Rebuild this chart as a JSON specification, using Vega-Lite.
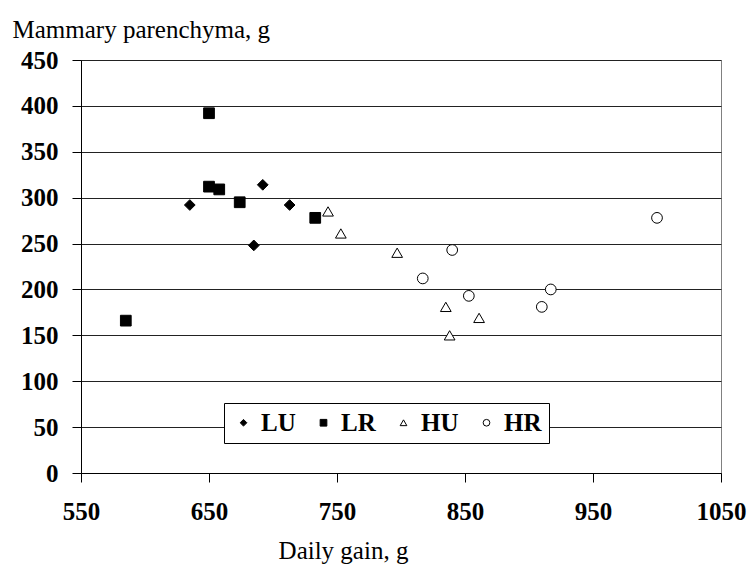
{
  "$schema": "https://vega.github.io/schema/vega-lite/v6.json",
  "width": 640,
  "height": 413,
  "autosize": "none",
  "padding": {"left": 81, "top": 60, "right": 30, "bottom": 97},
  "background": "white",
  "config": {
    "view": {"stroke": "#808080", "strokeWidth": 1},
    "font": "Liberation Serif",
    "legend": {
      "title": null,
      "orient": "none",
      "legendX": 143,
      "legendY": 343,
      "direction": "horizontal",
      "strokeColor": "black",
      "fillColor": "white",
      "padding": 7,
      "columnPadding": 15,
      "labelFont": "Liberation Serif",
      "labelFontSize": 25,
      "labelFontWeight": "bold",
      "labelColor": "black",
      "symbolSize": 45,
      "symbolStrokeWidth": 1,
      "labelOffset": 5
    }
  },
  "data": {
    "values": [
      {"gain": 635, "parenchyma": 292, "group": "LU"},
      {"gain": 692, "parenchyma": 314, "group": "LU"},
      {"gain": 713, "parenchyma": 292, "group": "LU"},
      {"gain": 685, "parenchyma": 248, "group": "LU"},
      {"gain": 650, "parenchyma": 392, "group": "LR"},
      {"gain": 650, "parenchyma": 312, "group": "LR"},
      {"gain": 658, "parenchyma": 309, "group": "LR"},
      {"gain": 674, "parenchyma": 295, "group": "LR"},
      {"gain": 733, "parenchyma": 278, "group": "LR"},
      {"gain": 585, "parenchyma": 166, "group": "LR"},
      {"gain": 743, "parenchyma": 285, "group": "HU"},
      {"gain": 753, "parenchyma": 261, "group": "HU"},
      {"gain": 797, "parenchyma": 240, "group": "HU"},
      {"gain": 835, "parenchyma": 181, "group": "HU"},
      {"gain": 861, "parenchyma": 169, "group": "HU"},
      {"gain": 838, "parenchyma": 150, "group": "HU"},
      {"gain": 840, "parenchyma": 243, "group": "HR"},
      {"gain": 817, "parenchyma": 212, "group": "HR"},
      {"gain": 853, "parenchyma": 193, "group": "HR"},
      {"gain": 917, "parenchyma": 200, "group": "HR"},
      {"gain": 910, "parenchyma": 181, "group": "HR"},
      {"gain": 1000, "parenchyma": 278, "group": "HR"}
    ]
  },
  "mark": {"type": "point", "filled": true, "strokeWidth": 1, "opacity": 1, "size": 115},
  "encoding": {
    "x": {
      "field": "gain",
      "type": "quantitative",
      "scale": {"domain": [550, 1050], "nice": false, "zero": false},
      "axis": {
        "values": [550, 650, 750, 850, 950, 1050],
        "format": "d",
        "grid": false,
        "title": "Daily gain, g",
        "titleFont": "Liberation Serif",
        "titleFontSize": 25,
        "titleFontWeight": "normal",
        "titleColor": "black",
        "titleX": 262,
        "titleY": 77,
        "titleBaseline": "middle",
        "titleAlign": "center",
        "domainColor": "black",
        "tickColor": "black",
        "tickSize": 9,
        "labelFont": "Liberation Serif",
        "labelFontSize": 25,
        "labelFontWeight": "bold",
        "labelColor": "black",
        "labelPadding": 17,
        "labelFlush": false
      }
    },
    "y": {
      "field": "parenchyma",
      "type": "quantitative",
      "scale": {"domain": [0, 450], "nice": false},
      "axis": {
        "values": [0, 50, 100, 150, 200, 250, 300, 350, 400, 450],
        "format": "d",
        "grid": true,
        "gridColor": "#222",
        "gridWidth": 1,
        "gridOpacity": 1,
        "title": "Mammary parenchyma, g",
        "titleFont": "Liberation Serif",
        "titleFontSize": 25,
        "titleFontWeight": "normal",
        "titleColor": "black",
        "titleAngle": 0,
        "titleAlign": "left",
        "titleBaseline": "middle",
        "titleX": -69,
        "titleY": -31,
        "domainColor": "black",
        "tickColor": "black",
        "tickSize": 9,
        "labelFont": "Liberation Serif",
        "labelFontSize": 25,
        "labelFontWeight": "bold",
        "labelColor": "black",
        "labelPadding": 14,
        "labelFlush": false
      }
    },
    "shape": {
      "field": "group",
      "type": "nominal",
      "scale": {"domain": ["LU", "LR", "HU", "HR"], "range": ["diamond", "square", "triangle-up", "circle"]}
    },
    "fill": {
      "field": "group",
      "type": "nominal",
      "scale": {"domain": ["LU", "LR", "HU", "HR"], "range": ["black", "black", "white", "white"]}
    },
    "stroke": {
      "field": "group",
      "type": "nominal",
      "scale": {"domain": ["LU", "LR", "HU", "HR"], "range": ["black", "black", "black", "black"]}
    }
  }
}
